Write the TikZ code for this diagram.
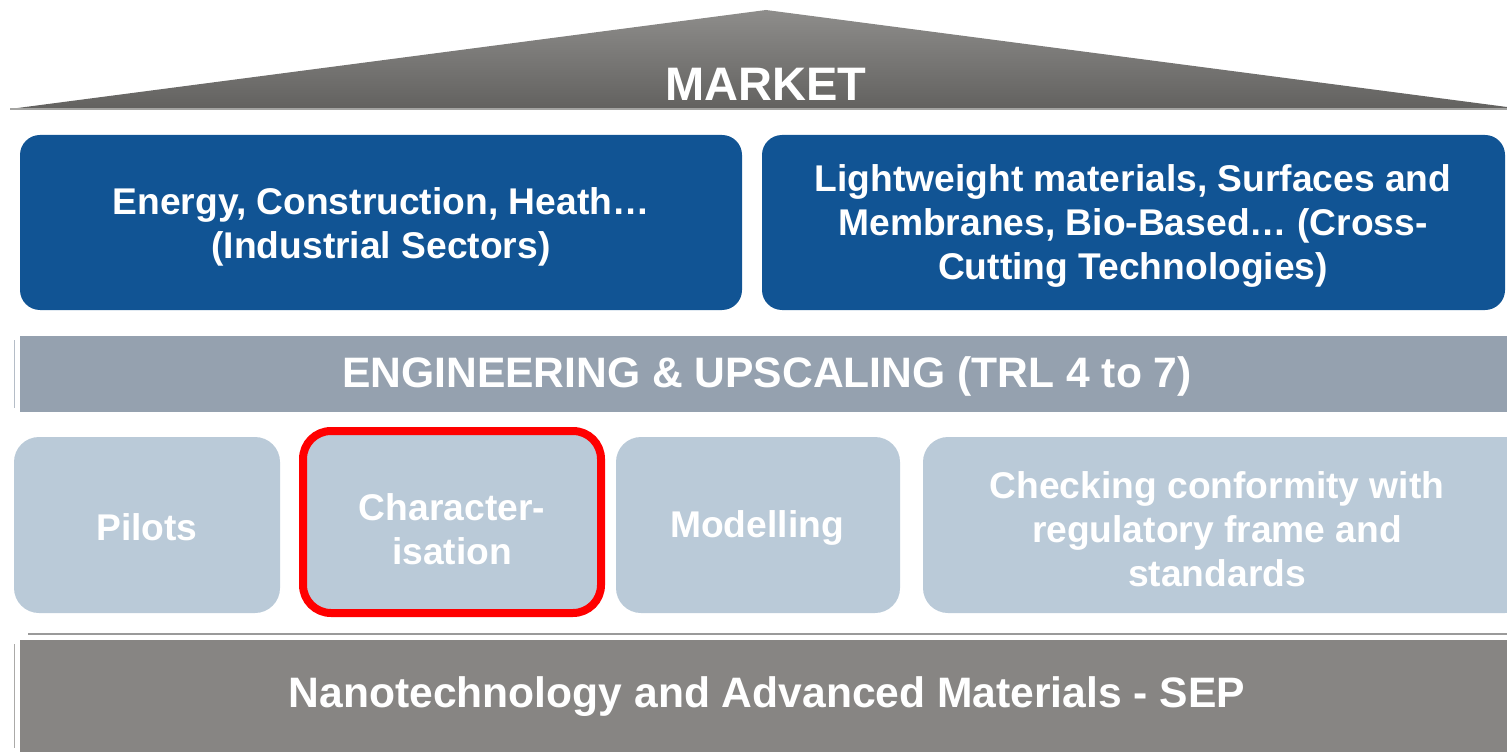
\documentclass[tikz,border=0pt]{standalone}
\usepackage{fontspec}
\setmainfont{Liberation Sans}
\begin{document}
\begin{tikzpicture}[x=0.5pt,y=-0.5pt,
  lbl/.style={text=white,font=\bfseries\fontsize{18.6pt}{22pt}\selectfont,align=center,inner sep=0pt},
  bandlbl/.style={text=white,font=\bfseries\fontsize{21.3pt}{25pt}\selectfont,inner sep=0pt},
  bluebox/.style={fill=boxblue,rounded corners=10pt},
  lightbox/.style={fill=boxlight,rounded corners=12.5pt}]
\definecolor{roofTop}{HTML}{8E8D8B}
\definecolor{roofBot}{HTML}{62615F}
\definecolor{boxblue}{HTML}{115494}
\definecolor{engband}{HTML}{95A1AF}
\definecolor{boxlight}{HTML}{BACAD8}
\definecolor{bottomband}{HTML}{878583}
\definecolor{sepline}{HTML}{9A9A9A}
\useasboundingbox (0,0) rectangle (1507,753);
% roof
\shade[top color=roofTop,bottom color=roofBot] (10,109) -- (766,10) -- (1507,107) -- (1507,109) -- cycle;
\draw[roofTop!80!white,line width=1pt] (10,109) -- (1507,109);
\node[text=white,font=\bfseries\fontsize{23.5pt}{28pt}\selectfont,inner sep=0pt] (market) at (766,84) {MARKET};
% blue boxes
\fill[bluebox] (20,135) rectangle (742,310);
\fill[bluebox] (762,135) rectangle (1505,310);
\node[lbl] (sectors) at (381,227) {Energy, Construction, Heath…\\(Industrial Sectors)};
\node[lbl] (cross) at (1133,226) {Lightweight materials, Surfaces and\\Membranes, Bio-Based… (Cross-\\Cutting Technologies)};
% engineering band
\fill[engband!70!white] (13.5,340) rectangle (14.5,408);
\fill[engband] (20,336) rectangle (1507,412);
\node[bandlbl] (eng) at (767,376) {ENGINEERING \& UPSCALING (TRL 4 to 7)};
% light boxes
\fill[lightbox] (14,437) rectangle (280,613);
\filldraw[fill=boxlight,draw=red,line width=4pt,rounded corners=14pt] (303,431) rectangle (601,613);
\fill[lightbox] (616,437) rectangle (900,613);
\fill[lightbox] (923,437) rectangle (1530,613);
\node[lbl] (pilots) at (147,527) {Pilots};
\node[lbl] (charac) at (452,529) {Character-\\isation};
\node[lbl] (model) at (757,528) {Modelling};
\node[lbl] (conform) at (1217,529) {Checking conformity with\\regulatory frame and\\standards};
% separator line
\draw[sepline,line width=1pt] (28,634) -- (1507,634);
% bottom band
\fill[bottomband!70!white] (13.5,644) rectangle (14.5,748);
\fill[bottomband] (20,640) rectangle (1507,752);
\node[bandlbl] (nano) at (767,697) {Nanotechnology and Advanced Materials - SEP};
\end{tikzpicture}
\end{document}
